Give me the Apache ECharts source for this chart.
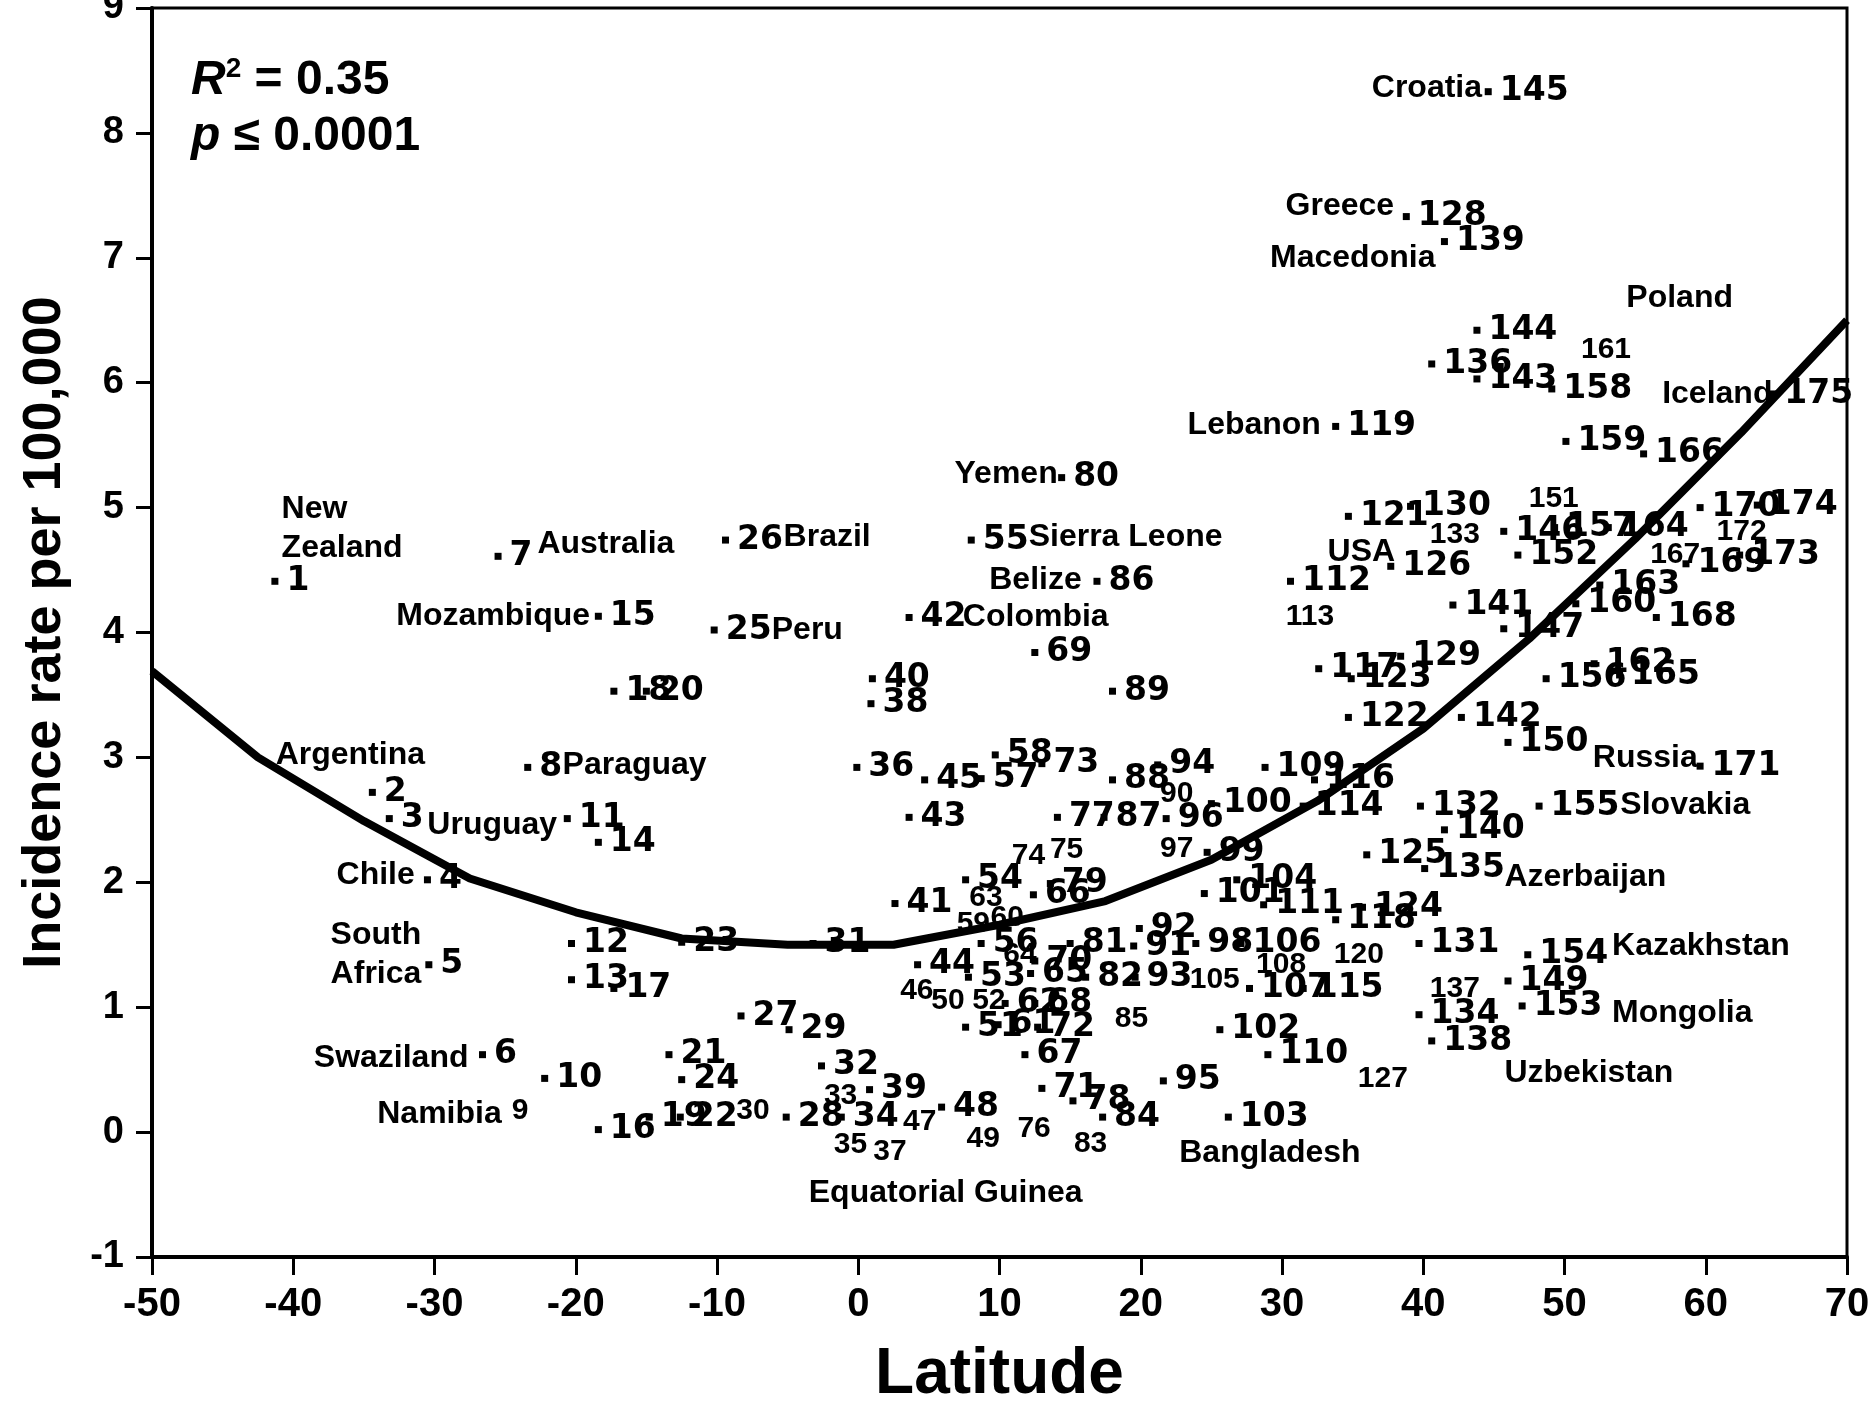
<!DOCTYPE html>
<html>
<head>
<meta charset="utf-8">
<script src="https://cdn.jsdelivr.net/npm/echarts@6/dist/echarts.min.js"></script>
<style>
  html, body { margin: 0; padding: 0; background: #fff; }
  #chart { width: 1874px; height: 1404px; }
</style>
</head>
<body>
<div id="chart"></div>
<script>
// country number, latitude, incidence rate (per 100,000)
var ids = [1,2,3,4,5,6,7,8,9,10,11,12,13,14,15,16,17,18,19,20,
  21,22,23,24,25,26,27,28,29,30,31,32,33,34,35,36,37,38,39,40,
  41,42,43,44,45,46,47,48,49,50,51,52,53,54,55,56,57,58,59,60,
  61,62,63,64,65,66,67,68,69,70,71,72,73,74,75,76,77,78,79,80,
  81,82,83,84,85,86,87,88,89,90,91,92,93,94,95,96,97,98,99,100,
  101,102,103,104,105,106,107,108,109,110,111,112,113,114,115,116,117,118,119,120,
  121,122,123,124,125,126,127,128,129,130,131,132,133,134,135,136,137,138,139,140,
  141,142,143,144,145,146,147,149,150,151,152,153,154,155,156,157,158,159,160,
  161,162,163,164,165,166,167,168,169,170,171,172,173,174,175];
var lat = [-41.3,-34.4,-33.2,-30.5,-30.4,-26.6,-25.5,-23.4,-25.1,-22.2,-20.6,-20.3,-20.3,-18.4,-18.4,-18.4,-17.3,-17.3,-14.8,-15.0,
  -13.4,-12.6,-12.5,-12.5,-10.2,-9.4,-8.3,-5.1,-4.9,-9.2,-3.2,-2.6,-3.0,-1.2,-2.3,-0.1,0.5,0.9,0.8,1.0,
  2.6,3.6,3.6,4.2,4.7,2.4,2.6,5.9,7.1,4.6,7.6,7.5,7.8,7.6,8.0,8.7,8.7,9.7,6.4,8.8,
  9.9,10.4,7.3,9.7,12.2,12.4,11.8,12.5,12.5,12.5,13.0,12.7,13.0,10.3,13.0,10.7,14.1,15.2,13.6,14.4,
  15.0,16.1,14.7,17.3,17.6,16.9,17.4,18.0,18.0,20.8,19.5,19.9,19.6,21.2,21.6,21.8,20.8,23.9,24.7,25.0,
  24.5,25.6,26.2,26.8,22.9,27.1,27.7,27.6,28.8,29.0,28.7,30.6,29.7,31.5,31.5,32.3,32.6,33.8,33.8,33.1,
  34.7,34.7,34.9,35.7,36.0,37.7,34.8,38.8,38.4,39.1,39.7,39.8,39.9,39.7,40.1,40.6,39.9,40.6,41.5,41.5,
  42.1,42.7,43.8,43.8,44.6,45.7,45.7,46.0,46.0,46.9,46.7,47.0,47.4,48.2,48.7,49.3,49.1,50.1,50.8,
  50.6,52.1,52.5,53.1,53.9,55.6,55.5,56.5,58.6,59.6,59.6,60.2,62.4,63.65,64.75];
var rate = [4.41,2.72,2.51,2.02,1.34,0.62,4.61,2.92,0.17,0.43,2.51,1.51,1.22,2.32,4.13,0.02,1.15,3.53,0.12,3.53,
  0.62,0.12,1.52,0.42,4.02,4.74,0.93,0.12,0.82,0.17,1.51,0.53,0.29,0.12,-0.10,2.92,-0.16,3.43,0.34,3.63,
  1.83,4.12,2.52,1.34,2.82,1.13,0.08,0.20,-0.05,1.05,0.84,1.05,1.24,2.02,4.74,1.51,2.83,3.02,1.67,1.72,
  0.86,1.03,1.88,1.42,1.27,1.90,0.62,1.03,3.84,1.37,0.35,0.84,2.95,2.21,2.26,0.03,2.52,0.25,1.99,5.24,
  1.51,1.24,-0.09,0.12,0.91,4.41,2.52,2.82,3.53,2.71,1.49,1.63,1.24,2.94,0.41,2.51,2.27,1.51,2.24,2.63,
  1.91,0.82,0.12,2.02,1.22,1.51,1.15,1.34,2.92,0.62,1.82,4.41,4.13,2.61,1.15,2.82,3.71,1.70,5.65,1.42,
  4.93,3.32,3.63,1.80,2.22,4.53,0.43,7.33,3.81,5.01,1.51,2.61,4.78,0.94,2.11,6.15,1.15,0.73,7.13,2.42,
  4.22,3.32,6.03,6.42,8.33,4.81,4.03,1.21,3.12,5.07,4.62,1.01,1.42,2.61,3.63,4.84,5.95,5.53,4.23,
  6.26,3.75,4.38,4.84,3.66,5.43,4.62,4.12,4.55,5.00,2.93,4.81,4.62,5.02,5.91];
// numbers printed in the smaller typeface
var smallIds = [9,30,33,35,37,46,47,49,50,52,59,60,63,64,74,75,76,83,85,90,97,105,108,113,120,127,133,137,151,161,167,172];

// country names written on the plot
var countryNames = ['New\nZealand','Australia','Mozambique','Brazil','Peru','Sierra Leone','Belize','Colombia','Yemen',
  'Argentina','Paraguay','Uruguay','Chile','South\nAfrica','Swaziland','Namibia','Equatorial Guinea','Bangladesh',
  'Lebanon','Greece','Macedonia','Croatia','Poland','Iceland','USA','Russia','Slovakia','Azerbaijan','Kazakhstan',
  'Mongolia','Uzbekistan'];
var countryLat = [-40.86,-22.75,-32.74,-5.32,-6.16,12.03,9.24,7.37,6.78,
  -41.28,-20.97,-30.54,-36.97,-37.39,-38.58,-34.09,-3.54,22.69,
  23.28,30.22,29.12,36.32,54.34,56.88,33.19,51.97,53.92,45.71,53.33,
  53.33,45.71];
var countryRate = [4.83,4.71,4.13,4.76,4.02,4.76,4.42,4.12,5.27,
  3.02,2.94,2.46,2.06,1.42,0.59,0.14,-0.49,-0.17,
  5.66,7.41,7.0,8.36,6.68,5.91,4.64,2.99,2.62,2.04,1.49,
  0.95,0.47];

// fitted curve as drawn
var fitLat = [-50,-42.5,-35,-27.5,-20,-12.5,-5,2.5,10,17.5,25,32.5,40,47.5,55,62.5,70];
var fitRate = [3.69,3.0,2.49,2.03,1.76,1.55,1.50,1.50,1.66,1.85,2.18,2.65,3.23,3.95,4.75,5.6,6.5];

var xTicks = { min: -50, max: 70, step: 10 };
var yTicks = { min: -1, max: 9, step: 1 };

var myChart = echarts.init(document.getElementById('chart'));

var smallLabel = {
    fontFamily: 'Liberation Sans',
    fontSize: 30,
    fontWeight: 'bold'
};

var points = ids.map(function (id, i) {
    var item = { value: [lat[i], rate[i], id] };
    if (smallIds.indexOf(id) >= 0) {
        item.label = smallLabel;
        item.symbolSize = 0; // marker hidden under other marks in the original
    }
    return item;
});

var names = countryNames.map(function (n, i) {
    return { value: [countryLat[i], countryRate[i]], name: n };
});

var fit = fitLat.map(function (x, i) {
    return [x, fitRate[i]];
});

var axisFont = {
    color: '#000',
    fontFamily: 'Liberation Sans',
    fontWeight: 'bold'
};

var option = {
    animation: false,
    backgroundColor: '#fff',
    grid: {
        left: 152,
        top: 8,
        right: 27,
        bottom: 147,
        containLabel: false,
        outerBoundsMode: 'none',
        show: true,
        borderColor: '#000',
        borderWidth: 3
    },
    xAxis: {
        type: 'value',
        min: xTicks.min,
        max: xTicks.max,
        interval: xTicks.step,
        name: 'Latitude',
        nameLocation: 'middle',
        nameGap: 86,
        nameTextStyle: {
            color: '#000',
            fontFamily: 'Liberation Sans',
            fontWeight: 900,
            fontSize: 64
        },
        axisLine: { show: true, onZero: false, lineStyle: { color: '#000', width: 4 } },
        axisTick: { show: true, length: 18, lineStyle: { color: '#000', width: 3 } },
        axisLabel: Object.assign({ fontSize: 40, margin: 28 }, axisFont),
        splitLine: { show: false }
    },
    yAxis: {
        type: 'value',
        min: yTicks.min,
        max: yTicks.max,
        interval: yTicks.step,
        name: 'Incidence rate per 100,000',
        nameLocation: 'middle',
        nameGap: 80,
        nameTextStyle: {
            color: '#000',
            fontFamily: 'Liberation Sans',
            fontWeight: 'bold',
            fontSize: 54
        },
        axisLine: { show: true, onZero: false, lineStyle: { color: '#000', width: 4 } },
        axisTick: { show: true, length: 16, lineStyle: { color: '#000', width: 3 } },
        axisLabel: Object.assign({ fontSize: 38, margin: 28 }, axisFont),
        splitLine: { show: false }
    },
    graphic: [
        {
            type: 'text',
            left: 191,
            top: 55,
            style: {
                text: '{r|R}{s|2}{n| = 0.35}',
                fill: '#000',
                rich: {
                    r: { fontFamily: 'Liberation Sans', fontStyle: 'italic', fontWeight: 'bold', fontSize: 48, lineHeight: 52 },
                    s: { fontFamily: 'Liberation Sans', fontWeight: 'bold', fontSize: 28, verticalAlign: 'top', lineHeight: 52 },
                    n: { fontFamily: 'Liberation Sans', fontWeight: 'bold', fontSize: 48, lineHeight: 52 }
                }
            }
        },
        {
            type: 'text',
            left: 191,
            top: 113,
            style: {
                text: '{p|p}{n| \u2264 0.0001}',
                fill: '#000',
                rich: {
                    p: { fontFamily: 'Liberation Sans', fontStyle: 'italic', fontWeight: 'bold', fontSize: 48, lineHeight: 52 },
                    n: { fontFamily: 'Liberation Sans', fontWeight: 'bold', fontSize: 48, lineHeight: 52 }
                }
            }
        }
    ],
    series: [
        {
            name: 'fit',
            type: 'line',
            data: fit,
            showSymbol: false,
            smooth: false,
            lineStyle: { color: '#000', width: 8 },
            z: 2
        },
        {
            name: 'countries',
            type: 'scatter',
            data: points,
            symbol: 'rect',
            symbolSize: 7,
            itemStyle: { color: '#000', opacity: 1 },
            label: {
                show: true,
                position: 'right',
                distance: 8,
                color: '#000',
                opacity: 1,
                fontFamily: 'DejaVu Sans',
                fontWeight: 'bold',
                fontSize: 33,
                formatter: function (p) {
                    return p.value[2];
                }
            },
            z: 3
        },
        {
            name: 'names',
            type: 'scatter',
            data: names,
            symbolSize: 1,
            itemStyle: { color: '#fff', opacity: 0 },
            label: {
                show: true,
                position: 'right',
                distance: 0,
                align: 'left',
                verticalAlign: 'middle',
                color: '#000',
                opacity: 1,
                fontFamily: 'Liberation Sans',
                fontWeight: 'bold',
                fontSize: 32,
                lineHeight: 39,
                formatter: function (p) {
                    return p.name;
                }
            },
            z: 4
        }
    ]
};
myChart.setOption(option, true);
</script>
</body>
</html>
